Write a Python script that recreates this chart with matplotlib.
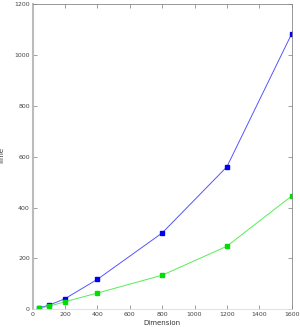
import matplotlib
matplotlib.use("Agg")
import matplotlib.pyplot as plt

dims = [40, 100, 200, 400, 800, 1200, 1600]
time_blue = [6, 16, 42, 118, 300, 560, 1082]
time_green = [4, 12, 30, 64, 134, 248, 445]
xticks = [0, 200, 400, 600, 800, 1000, 1200, 1400, 1600]
yticks = [0, 200, 400, 600, 800, 1000, 1200]

fig = plt.figure(figsize=(3.0, 3.27), dpi=100)
ax = fig.add_axes([0.109, 0.054, 0.863, 0.934])

ax.plot(dims, time_blue, color="#5555ff", lw=0.7, marker="s", ms=2.3,
        mfc="#0000ee", mec="#0000ee")
ax.plot(dims, time_green, color="#55ee55", lw=0.7, marker="s", ms=2.3,
        mfc="#00dd00", mec="#00dd00")

ax.set_xlim(0, 1600)
ax.set_ylim(0, 1200)
ax.set_xticks(xticks)
ax.set_yticks(yticks)
ax.tick_params(direction="in", length=3, width=0.5, colors="#777777",
               labelsize=4.5, labelcolor="#444444", top=True, right=True, pad=2)
for s in ["top", "right"]:
    ax.spines[s].set_color("#888888")
    ax.spines[s].set_linewidth(0.6)
ax.spines["left"].set_color("#bbbbbb")
ax.spines["left"].set_linewidth(1.5)
ax.spines["bottom"].set_color("#dddddd")
ax.spines["bottom"].set_linewidth(0.6)

ax.set_xlabel("Dimension", fontsize=5, color="#333333", labelpad=2)
ax.set_ylabel("Time", fontsize=5, color="#333333", labelpad=7)

fig.savefig("out.png", dpi=100)
